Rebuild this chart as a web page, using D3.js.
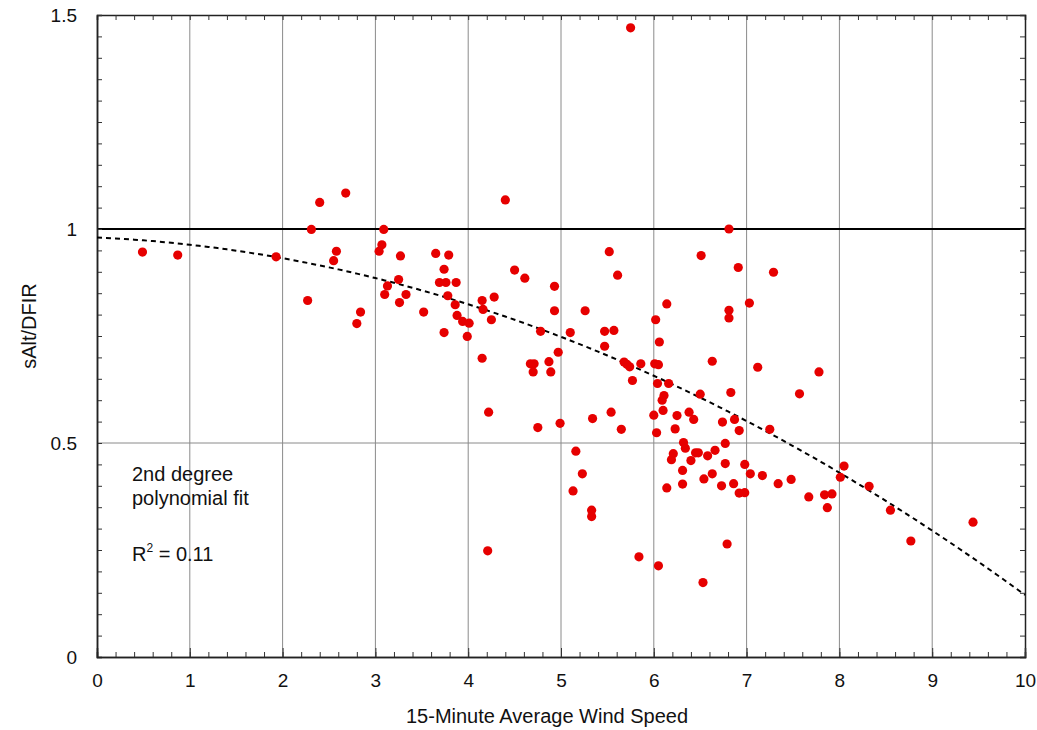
<!DOCTYPE html>
<html lang="en">
  <head>
    <meta charset="utf-8">
    <title>sAlt/DFIR vs wind speed</title>
    <style type="text/css">
      body {
        margin: 0px;
        padding: 0px;
        background: white;
      }
      svg {
        font-family: "Liberation Sans", Arial, sans-serif;
      }
    </style>
    <script src="https://d3js.org/d3.v7.min.js"></script>
  </head>
<body>
<div id="root"></div>

<script>
  // data: 15-min average wind speed vs sAlt/DFIR
  var windSpeed = [
    0.49, 0.87, 1.93, 2.27, 2.31, 2.40, 2.55, 2.58, 2.68, 2.80,
    2.84, 3.04, 3.07, 3.09, 3.10, 3.13, 3.25, 3.26, 3.27, 3.33,
    3.52, 3.65, 3.69, 3.74, 3.74, 3.76, 3.78, 3.79, 3.86, 3.87,
    3.88, 3.94, 3.99, 4.01, 4.15, 4.15, 4.16, 4.21, 4.22, 4.25,
    4.28, 4.40, 4.50, 4.61, 4.67, 4.70, 4.71, 4.75, 4.78, 4.87,
    4.89, 4.93, 4.93, 4.97, 4.99, 5.10, 5.13, 5.16, 5.23, 5.26,
    5.33, 5.33, 5.34, 5.47, 5.47, 5.52, 5.54, 5.57, 5.61, 5.65,
    5.68, 5.71, 5.74, 5.75, 5.77, 5.84, 5.86, 6.00, 6.01, 6.02,
    6.03, 6.04, 6.05, 6.05, 6.06, 6.09, 6.10, 6.11, 6.14, 6.14,
    6.16, 6.19, 6.21, 6.23, 6.25, 6.31, 6.31, 6.32, 6.34, 6.38,
    6.40, 6.43, 6.45, 6.48, 6.50, 6.51, 6.53, 6.54, 6.58, 6.63,
    6.63, 6.66, 6.73, 6.74, 6.77, 6.77, 6.79, 6.81, 6.81, 6.81,
    6.83, 6.86, 6.87, 6.91, 6.92, 6.92, 6.98, 6.98, 7.03, 7.04,
    7.12, 7.17, 7.25, 7.29, 7.34, 7.48, 7.57, 7.67, 7.78, 7.84,
    7.87, 7.92, 8.01, 8.05, 8.32, 8.55, 8.77, 9.44
  ];
  var ratio = [
    0.946, 0.939, 0.935, 0.833, 0.999, 1.062, 0.926, 0.948, 1.084, 0.779,
    0.806, 0.948, 0.963, 0.999, 0.847, 0.867, 0.882, 0.828, 0.937, 0.847,
    0.806, 0.943, 0.875, 0.906, 0.758, 0.875, 0.844, 0.939, 0.823, 0.875,
    0.798, 0.784, 0.749, 0.780, 0.833, 0.698, 0.812, 0.248, 0.572, 0.788,
    0.841, 1.068, 0.904, 0.885, 0.685, 0.666, 0.685, 0.536, 0.761, 0.690,
    0.666, 0.866, 0.809, 0.712, 0.546, 0.758, 0.388, 0.481, 0.428, 0.809,
    0.343, 0.328, 0.557, 0.761, 0.726, 0.947, 0.572, 0.763, 0.892, 0.532,
    0.689, 0.684, 0.678, 1.470, 0.646, 0.234, 0.685, 0.565, 0.685, 0.788,
    0.524, 0.639, 0.683, 0.213, 0.736, 0.600, 0.576, 0.611, 0.825, 0.395,
    0.639, 0.461, 0.475, 0.533, 0.564, 0.436, 0.404, 0.501, 0.488, 0.572,
    0.459, 0.555, 0.477, 0.477, 0.614, 0.938, 0.174, 0.416, 0.470, 0.691,
    0.428, 0.483, 0.400, 0.549, 0.499, 0.452, 0.264, 1.000, 0.810, 0.792,
    0.618, 0.405, 0.555, 0.910, 0.529, 0.383, 0.384, 0.450, 0.827, 0.428,
    0.677, 0.424, 0.532, 0.899, 0.405, 0.415, 0.615, 0.374, 0.666, 0.379,
    0.349, 0.381, 0.420, 0.446, 0.399, 0.343, 0.271, 0.315
  ];
  // 2nd degree polynomial fit: c0 + c1*x + c2*x^2
  var fitCoef = [0.98, -0.0093, -0.00742];
  var xTicks = [0, 1, 2, 3, 4, 5, 6, 7, 8, 9, 10];
  var yTicks = [0, 0.5, 1, 1.5];
  var fitNote = ["2nd degree", "polynomial fit"];
  var r2Value = "0.11";

  var W = 1037, H = 730;
  var margin = {left: 97, top: 15, right: 12, bottom: 73};
  var w = W - margin.left - margin.right;
  var h = H - margin.top - margin.bottom;

  var svg = d3.select("#root")
    .append("svg")
    .attr("width", W)
    .attr("height", H);

  var g = svg.append("g")
    .attr("transform", "translate(" + margin.left + "," + margin.top + ")");

  var x = d3.scaleLinear().domain([0, 10]).range([0, w]);
  var y = d3.scaleLinear().domain([0, 1.5]).range([h, 0]);

  // grid
  g.append("g")
    .selectAll("line")
    .data(xTicks.slice(1, -1))
    .enter().append("line")
      .attr("x1", function(d) { return x(d); })
      .attr("x2", function(d) { return x(d); })
      .attr("y1", 0)
      .attr("y2", h)
      .attr("stroke", "#8a8a8a")
      .attr("stroke-width", 1);

  g.append("line")
    .attr("x1", 0).attr("x2", w)
    .attr("y1", y(0.5)).attr("y2", y(0.5))
    .attr("stroke", "#8a8a8a")
    .attr("stroke-width", 1);

  // reference line at 1
  g.append("line")
    .attr("x1", 0).attr("x2", w)
    .attr("y1", y(1)).attr("y2", y(1))
    .attr("stroke", "#000")
    .attr("stroke-width", 2);

  // minor ticks, inward on all four sides
  var xMinor = d3.range(0, 10.001, 0.2);
  var yMinor = d3.range(0, 1.5001, 0.05);

  var bottomAxis = d3.axisBottom(x).tickValues(xMinor).tickSize(-5).tickFormat("");
  var topAxis = d3.axisTop(x).tickValues(xMinor).tickSize(-5).tickFormat("");
  var leftAxis = d3.axisLeft(y).tickValues(yMinor).tickSize(-5).tickFormat("");
  var rightAxis = d3.axisRight(y).tickValues(yMinor).tickSize(-5).tickFormat("");

  g.append("g").attr("transform", "translate(0," + h + ")").call(bottomAxis);
  g.append("g").call(topAxis);
  g.append("g").call(leftAxis);
  g.append("g").attr("transform", "translate(" + w + ",0)").call(rightAxis);

  // major labels
  var bottomLab = g.append("g")
    .attr("transform", "translate(0," + h + ")")
    .call(d3.axisBottom(x).tickValues(xTicks).tickSize(-9).tickPadding(17)
      .tickFormat(d3.format("d")));
  var leftLab = g.append("g")
    .call(d3.axisLeft(y).tickValues(yTicks).tickSize(0).tickPadding(20)
      .tickFormat(function(d) { return String(d); }));

  g.selectAll(".domain")
    .attr("stroke", "#222")
    .attr("stroke-width", 1.5);
  g.selectAll(".tick line")
    .attr("stroke", "#333");
  bottomLab.selectAll(".tick text")
    .style("font-size", "19px")
    .attr("fill", "#111");
  leftLab.selectAll(".tick text")
    .style("font-size", "19px")
    .attr("fill", "#111");

  // fit curve
  var fitXs = d3.range(0, 10.001, 0.1);
  var fitLine = d3.line()
    .x(function(d) { return x(d); })
    .y(function(d) { return y(fitCoef[0] + fitCoef[1] * d + fitCoef[2] * d * d); });

  g.append("path")
    .datum(fitXs)
    .attr("d", fitLine)
    .attr("fill", "none")
    .attr("stroke", "#000")
    .attr("stroke-width", 2)
    .attr("stroke-dasharray", "5,4");

  // points
  g.append("g")
    .selectAll("circle")
    .data(d3.zip(windSpeed, ratio))
    .enter().append("circle")
      .attr("cx", function(d) { return x(d[0]); })
      .attr("cy", function(d) { return y(d[1]); })
      .attr("r", 4.6)
      .attr("fill", "#e60000");

  // annotation
  var note = g.append("text")
    .attr("x", 35)
    .attr("y", 466)
    .style("font-size", "20px")
    .attr("fill", "#111");
  note.selectAll("tspan")
    .data(fitNote)
    .enter().append("tspan")
      .attr("x", 35)
      .attr("dy", function(d, i) { return i === 0 ? 0 : 24; })
      .text(function(d) { return d; });

  var r2 = g.append("text")
    .attr("x", 35)
    .attr("y", 546)
    .style("font-size", "20px")
    .attr("fill", "#111");
  r2.append("tspan").text("R");
  r2.append("tspan").attr("dy", -9).style("font-size", "12px").text("2");
  r2.append("tspan").attr("dy", 9).text(" = " + r2Value);

  // axis titles
  svg.append("text")
    .attr("x", 547)
    .attr("y", 723)
    .attr("text-anchor", "middle")
    .style("font-size", "20px")
    .attr("fill", "#111")
    .text("15-Minute Average Wind Speed");

  svg.append("text")
    .attr("transform", "translate(36,326) rotate(-90)")
    .attr("text-anchor", "middle")
    .style("font-size", "20px")
    .attr("fill", "#111")
    .text("sAlt/DFIR");
</script>

</body>
</html>
